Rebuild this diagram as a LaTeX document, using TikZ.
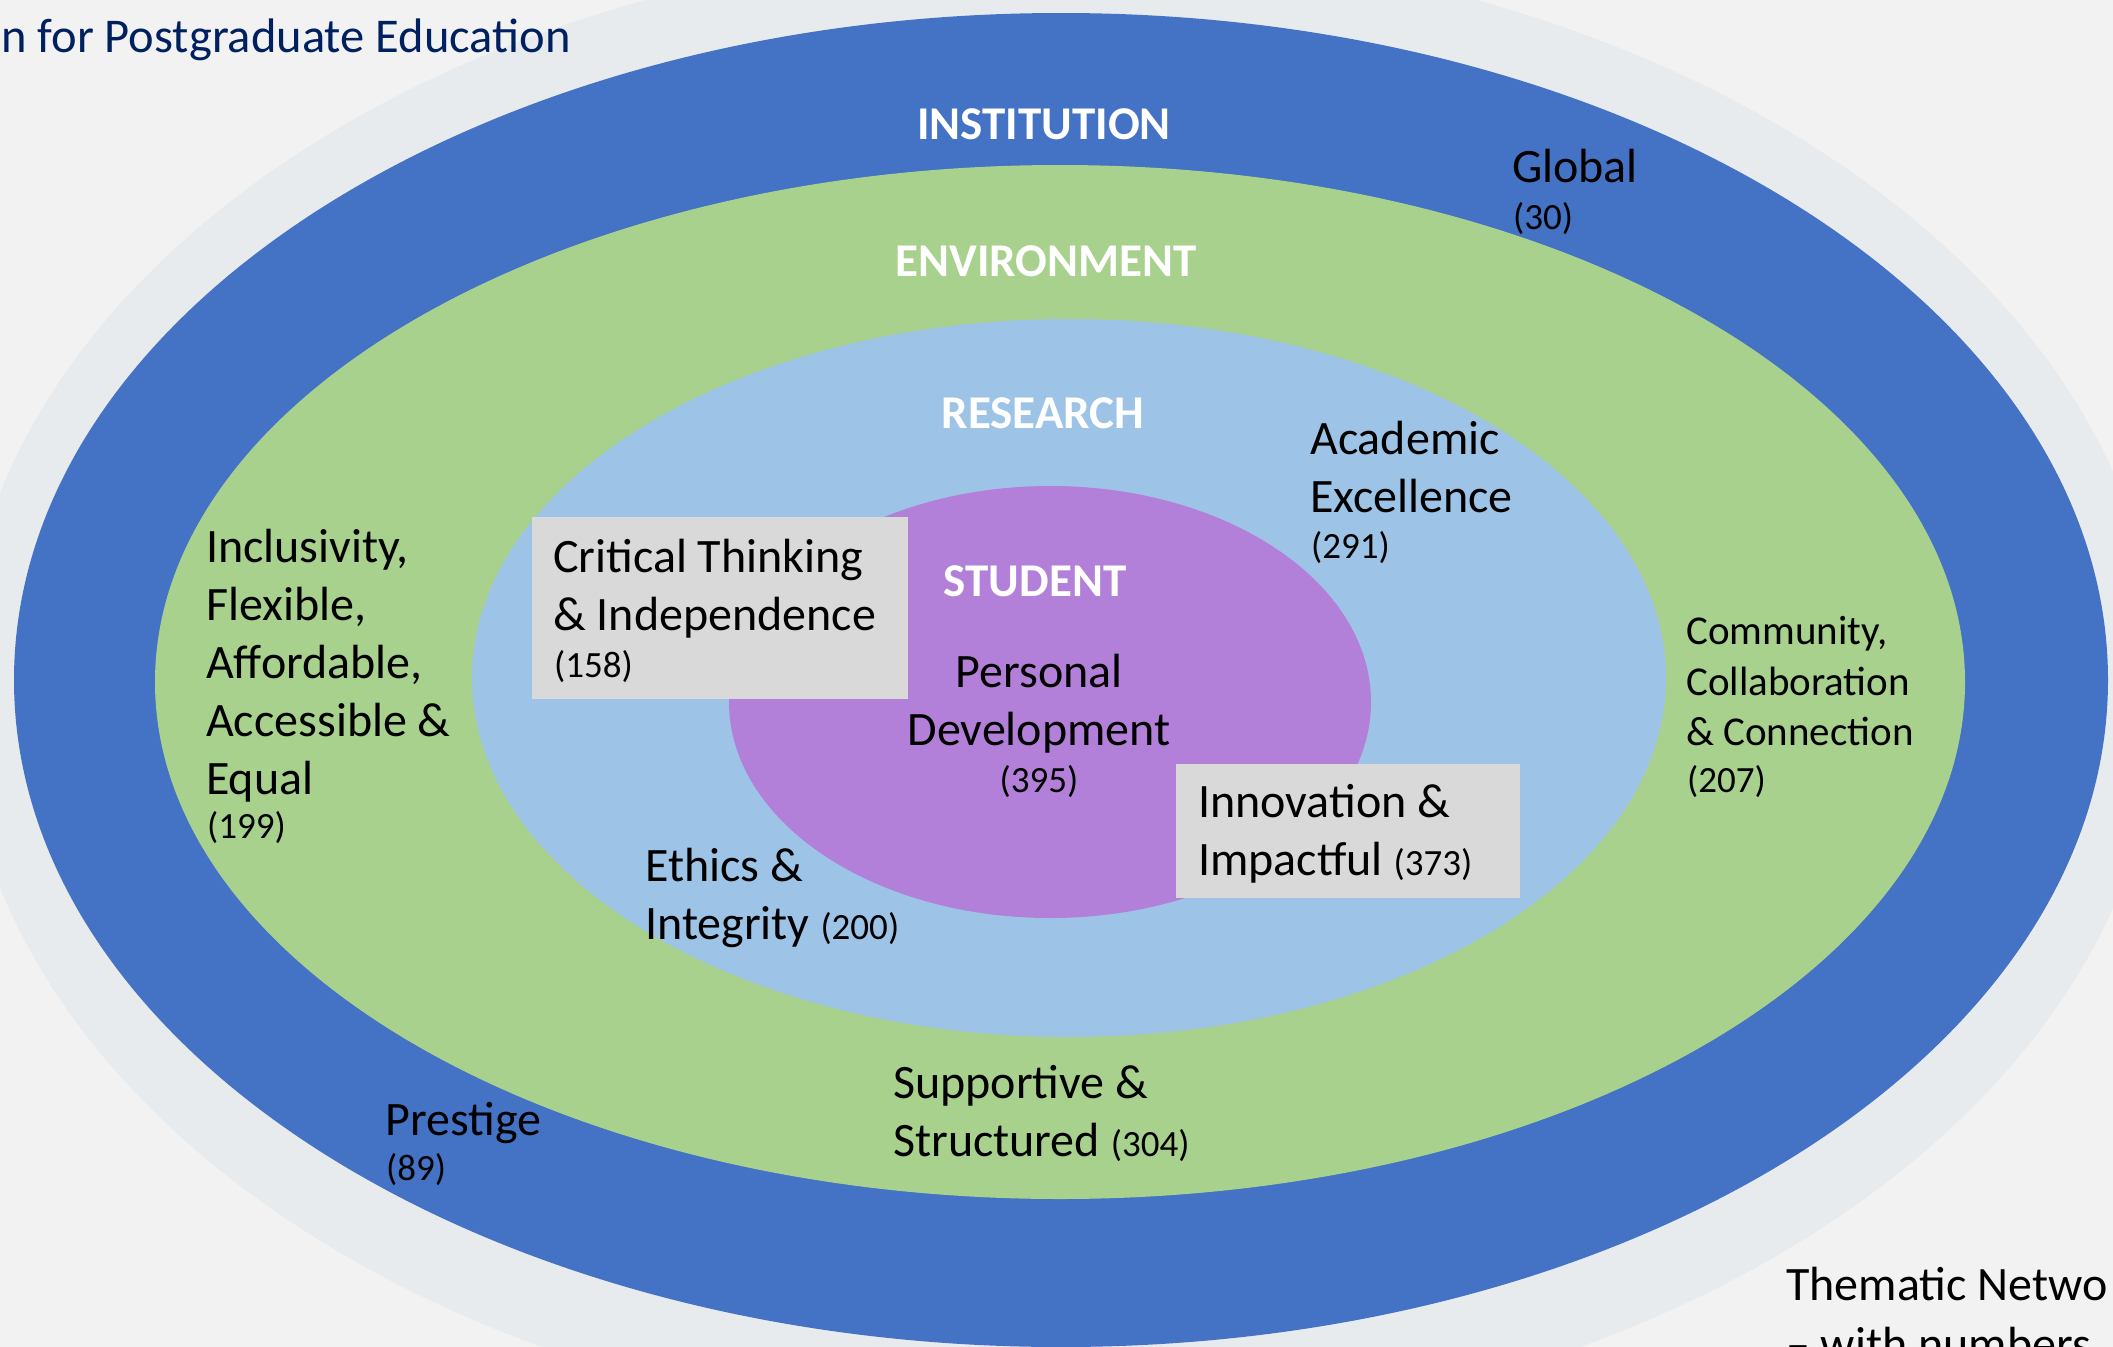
\documentclass[tikz,border=0pt]{standalone}
\usepackage{fontspec}
\setmainfont{Carlito}
\definecolor{bgc}{HTML}{F2F2F2}
\definecolor{wmk}{HTML}{E8EBEE}
\definecolor{instc}{HTML}{4472C4}
\definecolor{envc}{HTML}{A9D18E}
\definecolor{resc}{HTML}{9DC3E6}
\definecolor{stuc}{HTML}{B280D8}
\definecolor{boxc}{HTML}{D9D9D9}
\definecolor{titc}{HTML}{002060}
\newcommand\cnt[1]{{\fontsize{37pt}{44pt}\selectfont #1}}
\begin{document}
\begin{tikzpicture}[x=1pt,y=-1pt,
  lbl/.style={anchor=base west,inner sep=0pt,font=\fontsize{48pt}{58pt}\selectfont,text=black},
  clbl/.style={anchor=base,inner sep=0pt,font=\fontsize{48pt}{58pt}\selectfont,text=black},
  slbl/.style={anchor=base west,inner sep=0pt,font=\fontsize{41pt}{50pt}\selectfont,text=black},
  nm/.style={anchor=base west,inner sep=0pt,font=\fontsize{37pt}{44pt}\selectfont,text=black},
  cnm/.style={anchor=base,inner sep=0pt,font=\fontsize{37pt}{44pt}\selectfont,text=black},
  hdr/.style={anchor=base,inner sep=0pt,font=\bfseries\fontsize{47pt}{56pt}\selectfont,text=white},
  greybox/.style={fill=boxc,draw=none}]
\useasboundingbox (0,0) rectangle (2113,1347);
\clip (0,0) rectangle (2113,1347);
\fill[bgc] (0,0) rectangle (2113,1347);
% faint watermark
\fill[wmk] (1061,690) ellipse [x radius=1100pt, y radius=745pt];
% rings
\fill[instc] (1061,680) ellipse [x radius=1047pt, y radius=667pt];
\fill[envc] (1060,682) ellipse [x radius=905pt, y radius=517pt];
\fill[resc] (1069,678) ellipse [x radius=597pt, y radius=359pt];
\fill[stuc] (1050,702) ellipse [x radius=321pt, y radius=216pt];
% grey boxes
\fill[greybox] (532,517) rectangle (908,699);
\fill[greybox] (1176,764) rectangle (1520,898);
% title
\node[anchor=base west,inner sep=0pt,font=\fontsize{48.5pt}{58pt}\selectfont,text=titc] (title) at (1,52) {n for Postgraduate Education};
% headers
\node[hdr] (hinst) at (1044,139) {INSTITUTION};
\node[hdr] (henv) at (1046,276) {ENVIRONMENT};
\node[hdr] (hres) at (1043,428) {RESEARCH};
\node[hdr] (hstu) at (1035,596) {STUDENT};
% Global
\node[lbl] (glob1) at (1512,182) {Global};
\node[nm] (glob2) at (1513,229) {(30)};
% Academic Excellence
\node[lbl] (acad1) at (1310,454) {Academic};
\node[lbl] (acad2) at (1310,512) {Excellence};
\node[nm] (acad3) at (1311,558) {(291)};
% Community
\node[slbl] (com1) at (1686,644) {Community,};
\node[slbl] (com2) at (1686,695) {Collaboration};
\node[slbl] (com3) at (1686,745) {\& Connection};
\node[nm] (com4) at (1687,792) {(207)};
% Inclusivity
\node[lbl] (inc1) at (206,562) {Inclusivity,};
\node[lbl] (inc2) at (206,620) {Flexible,};
\node[lbl] (inc3) at (206,678) {Affordable,};
\node[lbl] (inc4) at (206,736) {Accessible \&};
\node[lbl] (inc5) at (206,794) {Equal};
\node[nm] (inc6) at (207,838) {(199)};
% Critical thinking
\node[lbl] (ct1) at (553,572) {Critical Thinking};
\node[lbl] (ct2) at (553,630) {\& Independence};
\node[nm] (ct3) at (554,677) {(158)};
% Personal development
\node[clbl] (pd1) at (1039,687) {Personal};
\node[clbl] (pd2) at (1039,745) {Development};
\node[cnm] (pd3) at (1039,792) {(395)};
% Innovation
\node[lbl] (inn1) at (1198,817) {Innovation \&};
\node[lbl] (inn2) at (1198,875) {Impactful \cnt{(373)}};
% Ethics
\node[lbl] (eth1) at (645,881) {Ethics \&};
\node[lbl] (eth2) at (645,939) {Integrity \cnt{(200)}};
% Supportive
\node[lbl] (sup1) at (893,1098) {Supportive \&};
\node[lbl] (sup2) at (893,1156) {Structured \cnt{(304)}};
% Prestige
\node[lbl] (pre1) at (385,1135) {Prestige};
\node[nm] (pre2) at (386,1180) {(89)};
% bottom right caption
\node[anchor=base west,inner sep=0pt,font=\fontsize{48pt}{58pt}\selectfont,text=black] (cap1) at (1786,1300) {Thematic Netwo};
\node[anchor=base west,inner sep=0pt,font=\fontsize{48pt}{58pt}\selectfont,text=black] (cap2) at (1786,1360) {– with numbers};
\end{tikzpicture}
\end{document}
